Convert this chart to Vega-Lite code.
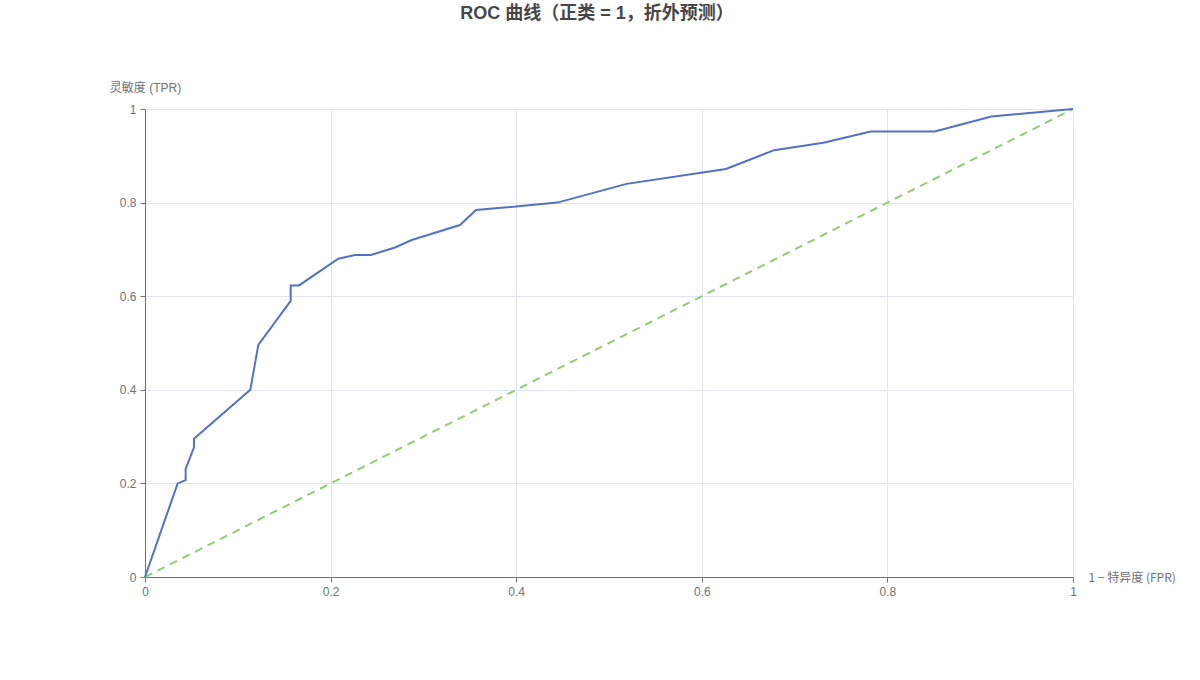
{
  "$schema": "https://vega.github.io/schema/vega-lite/v6.json",
  "width": 928,
  "height": 468,
  "autosize": {"type": "none"},
  "padding": {"left": 145, "top": 109, "right": 127, "bottom": 103},
  "background": "#ffffff",
  "config": {
    "font": "Liberation Sans, Noto Sans CJK SC, sans-serif",
    "view": {"stroke": null}
  },
  "title": {
    "text": "ROC 曲线（正类 = 1，折外预测）",
    "fontSize": 18,
    "fontWeight": "bold",
    "color": "#464646",
    "anchor": "middle",
    "dx": -12,
    "offset": 58
  },
  "datasets": {
    "roc": [
      {"fpr": 0, "tpr": 0},
      {"fpr": 0.0352, "tpr": 0.2},
      {"fpr": 0.0438, "tpr": 0.207},
      {"fpr": 0.0438, "tpr": 0.231},
      {"fpr": 0.0528, "tpr": 0.277},
      {"fpr": 0.0528, "tpr": 0.2955},
      {"fpr": 0.1135, "tpr": 0.4},
      {"fpr": 0.1221, "tpr": 0.496},
      {"fpr": 0.157, "tpr": 0.59},
      {"fpr": 0.157, "tpr": 0.623},
      {"fpr": 0.166, "tpr": 0.623},
      {"fpr": 0.2083, "tpr": 0.68},
      {"fpr": 0.2263, "tpr": 0.688},
      {"fpr": 0.2435, "tpr": 0.688},
      {"fpr": 0.2694, "tpr": 0.704},
      {"fpr": 0.2874, "tpr": 0.72},
      {"fpr": 0.3394, "tpr": 0.752},
      {"fpr": 0.3567, "tpr": 0.784},
      {"fpr": 0.4443, "tpr": 0.8},
      {"fpr": 0.519, "tpr": 0.84},
      {"fpr": 0.626, "tpr": 0.872},
      {"fpr": 0.678, "tpr": 0.912},
      {"fpr": 0.731, "tpr": 0.928},
      {"fpr": 0.782, "tpr": 0.952},
      {"fpr": 0.851, "tpr": 0.952},
      {"fpr": 0.912, "tpr": 0.984},
      {"fpr": 1, "tpr": 1}
    ],
    "diag": [
      {"fpr": 0, "tpr": 0},
      {"fpr": 1, "tpr": 1}
    ]
  },
  "encoding": {
    "x": {
      "field": "fpr",
      "type": "quantitative",
      "scale": {"domain": [0, 1], "nice": false, "zero": true},
      "axis": {
        "title": "1 − 特异度 (FPR)",
        "titleFont": "Noto Sans CJK SC, sans-serif",
        "titleFontSize": 12,
        "titleFontWeight": "normal",
        "titleColor": "#6E7079",
        "titleX": 943,
        "titleY": 0,
        "titleAlign": "left",
        "titleBaseline": "middle",
        "values": [0, 0.2, 0.4, 0.6, 0.8, 1],
        "format": ".1~f",
        "labelColor": "#6E7079",
        "labelFontSize": 12,
        "labelPadding": 4,
        "tickColor": "#6E7079",
        "tickSize": 5,
        "domainColor": "#6E7079",
        "grid": true,
        "gridColor": "#E0E6F1",
        "labelFlush": false
      }
    },
    "y": {
      "field": "tpr",
      "type": "quantitative",
      "scale": {"domain": [0, 1], "nice": false, "zero": true},
      "axis": {
        "title": "灵敏度 (TPR)",
        "titleFontSize": 12,
        "titleFontWeight": "normal",
        "titleColor": "#6E7079",
        "titleAngle": 0,
        "titleX": 0,
        "titleY": -22,
        "titleAlign": "center",
        "titleBaseline": "middle",
        "values": [0, 0.2, 0.4, 0.6, 0.8, 1],
        "format": ".1~f",
        "labelColor": "#6E7079",
        "labelFontSize": 12,
        "labelPadding": 4,
        "tickColor": "#6E7079",
        "tickSize": 5,
        "domainColor": "#6E7079",
        "grid": true,
        "gridColor": "#E0E6F1",
        "labelFlush": false
      }
    }
  },
  "layer": [
    {
      "data": {"name": "diag"},
      "mark": {"type": "line", "color": "#91cc75", "strokeWidth": 2, "strokeDash": [8, 6], "clip": false}
    },
    {
      "data": {"name": "roc"},
      "mark": {"type": "line", "color": "#5470c6", "strokeWidth": 2, "clip": false}
    }
  ]
}
